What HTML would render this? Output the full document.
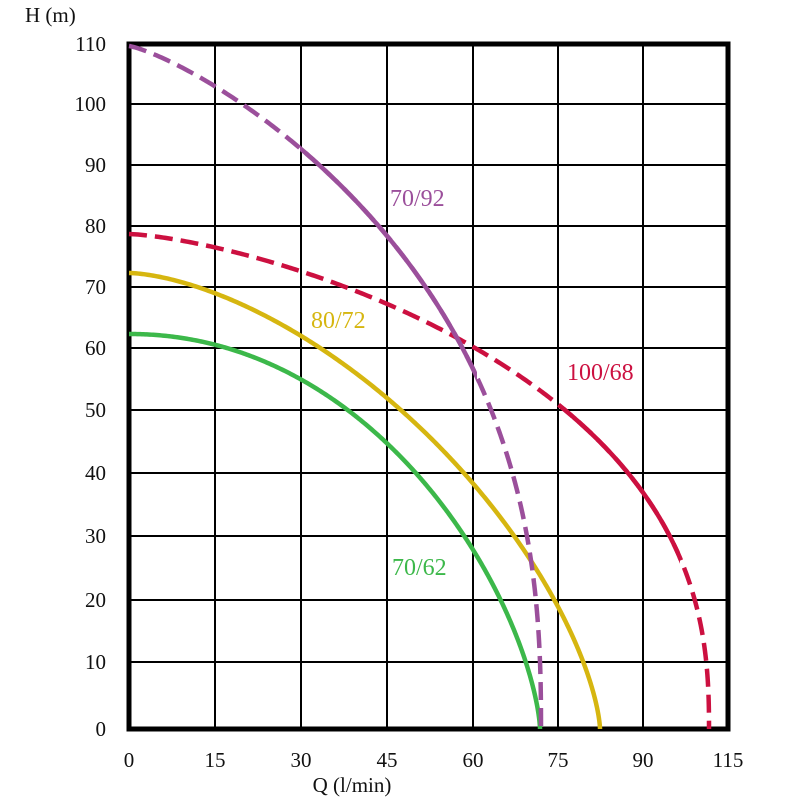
<!DOCTYPE html>
<html><head><meta charset="utf-8"><style>
html,body{margin:0;padding:0;background:#fff;}
svg{display:block;}
text{font-family:"Liberation Serif",serif;}
</style></head><body>
<svg id="s" width="800" height="800" xmlns="http://www.w3.org/2000/svg">
<defs>
<clipPath id="cp"><rect x="300" y="0" width="177" height="800"/></clipPath>
<clipPath id="cr"><rect x="560" y="0" width="120" height="800"/></clipPath>
</defs>
<g id="grid" stroke="#000" stroke-width="2"></g>
<rect x="129" y="44" width="599" height="685" fill="none" stroke="#000" stroke-width="5"/>
<g id="curves" fill="none" stroke-width="4.5" stroke-linejoin="round"></g>
<g font-size="21" fill="#111" text-anchor="end" id="yl"></g>
<g font-size="21" fill="#111" text-anchor="middle" id="xl"></g>
<text x="25" y="22" font-size="21" fill="#111">H (m)</text>
<text x="352" y="792" font-size="21" fill="#111" text-anchor="middle">Q (l/min)</text>
<text x="390" y="206" font-size="24" fill="#9b4f9b">70/92</text>
<text x="311" y="328" font-size="24" fill="#d6b610">80/72</text>
<text x="567" y="380" font-size="24" fill="#cc1040">100/68</text>
<text x="392" y="575" font-size="24" fill="#3cb84a">70/62</text>
</svg>
<script>
var NS="http://www.w3.org/2000/svg";
function el(p,t,a,txt){var e=document.createElementNS(NS,t);for(var k in a)e.setAttribute(k,a[k]);if(txt!==undefined)e.textContent=txt;document.getElementById(p).appendChild(e);return e;}
var xs=[129,215,301,387,473,558,643,728],xl=["0","15","30","45","60","75","90","115"];
var ys=[729,662,600,536,473,410,348,287,226,165,104,44];
xs.forEach(function(x,i){el("grid","line",{x1:x,y1:44,x2:x,y2:729});el("xl","text",{x:x,y:767},xl[i]);});
ys.forEach(function(y,i){el("grid","line",{x1:129,y1:y,x2:728,y2:y});if(i>0)el("yl","text",{x:106,y:y+7},String(i*10));});
el("yl","text",{x:106,y:736},"0");
function curve(a,b,p,q){var d="";var N=400;for(var i=0;i<=N;i++){var t=i/N;
/* parametrize by angle-like param for good density near end */
var r=Math.sin(t*Math.PI/2);var h=Math.pow(Math.max(0,1-Math.pow(r,p)),1/q);
var x=129+a*r,y=729-b*h;d+=(i?"L":"M")+x.toFixed(2)+","+y.toFixed(2);}return d;}
var purple=curve(412,683,1.25,2.5);
var red=curve(580,495,1.42,2.5);
var yel=curve(471,456,1.6,1.5);
var grn=curve(411,395,2.05,1.5);
el("curves","path",{d:grn,stroke:"#3cb84a"});
el("curves","path",{d:yel,stroke:"#d6b610"});
el("curves","path",{d:red,stroke:"#cc1040","stroke-dasharray":"18 8"});
el("curves","path",{d:red,stroke:"#cc1040","clip-path":"url(#cr)"});
el("curves","path",{d:purple,stroke:"#9b4f9b","stroke-dasharray":"18 8"});
el("curves","path",{d:purple,stroke:"#9b4f9b","clip-path":"url(#cp)"});
</script>
</body></html>
